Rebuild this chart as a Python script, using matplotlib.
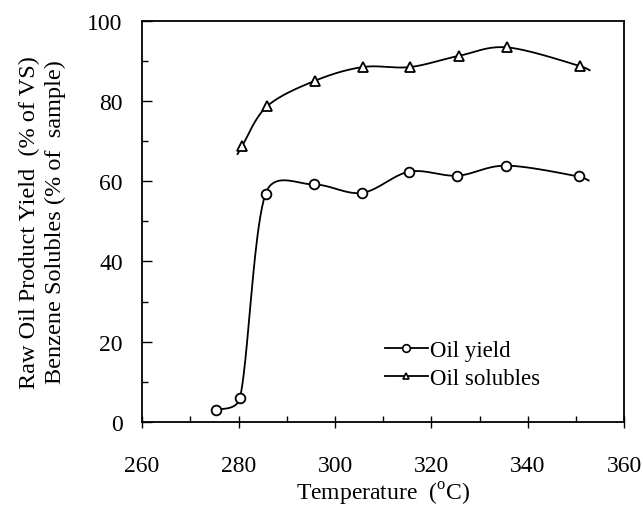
import numpy as np
import matplotlib
matplotlib.use("Agg")
import matplotlib.pyplot as plt
from matplotlib.ticker import MultipleLocator

plt.rcParams['font.family'] = ['Liberation Serif', 'DejaVu Serif']
plt.rcParams['mathtext.fontset'] = 'custom'
plt.rcParams['mathtext.rm'] = 'Liberation Serif'

# Data
yield_temp = [275.3, 280.3, 285.6, 295.6, 305.6, 315.4, 325.4, 335.5, 350.5]
yield_val = [2.9, 6.0, 56.9, 59.2, 57.1, 62.4, 61.4, 63.9, 61.2]
sol_temp = [280.8, 285.9, 295.9, 305.8, 315.6, 325.7, 335.7, 350.7]
sol_val = [68.9, 78.7, 85.1, 88.5, 88.5, 91.3, 93.4, 88.8]
# curve end points (line drawn slightly past the markers)
yield_end = (352.6, 60.2)
sol_start = (279.8, 66.8)
sol_end = (352.8, 87.7)

legend_labels = ['Oil yield', 'Oil solubles']
xlabel = r'Temperature  ($^{\mathrm{o}}$C)'
ylabel = 'Raw Oil Product Yield  (% of VS)\nBenzene Solubles (% of  sample)'

SX, SY = 4.86, 4.01  # approximate pixel scale used for smoothing shape


def smooth(xs, ys, n=40, t=1/6, lim=0.5):
    P = np.column_stack([np.asarray(xs, float) * SX, np.asarray(ys, float) * SY])
    out = []
    m = len(P)
    for i in range(m - 1):
        p0 = P[i - 1] if i > 0 else P[i]
        p1 = P[i]
        p2 = P[i + 1]
        p3 = P[i + 2] if i + 2 < m else P[i + 1]
        seg_len = np.linalg.norm(p2 - p1)
        v1 = (p2 - p0) * t
        v2 = (p3 - p1) * t
        for v in (v1, v2):
            L = np.linalg.norm(v)
            if L > lim * seg_len and L > 0:
                v *= lim * seg_len / L
        c1 = p1 + v1
        c2 = p2 - v2
        s = np.linspace(0, 1, n)[:, None]
        seg = ((1 - s) ** 3) * p1 + 3 * ((1 - s) ** 2) * s * c1 + 3 * (1 - s) * s ** 2 * c2 + s ** 3 * p2
        out.append(seg if i == 0 else seg[1:])
    c = np.vstack(out)
    return c[:, 0] / SX, c[:, 1] / SY


fig = plt.figure(figsize=(6.43, 5.10), dpi=100)
ax = fig.add_axes([0.221, 0.171, 0.750, 0.786])

lw = 1.3
yx, yy = smooth(yield_temp + [yield_end[0]], yield_val + [yield_end[1]])
ax.plot(yx, yy, color='black', lw=lw)
ax.plot(yield_temp, yield_val, 'o', ms=7, mfc='white', mec='black', mew=1.3)

sx, sy = smooth([sol_start[0]] + sol_temp + [sol_end[0]], [sol_start[1]] + sol_val + [sol_end[1]])
ax.plot(sx, sy, color='black', lw=lw)
ax.plot(sol_temp, sol_val, '^', ms=7, mfc='white', mec='black', mew=1.3)

h1, = ax.plot([], [], '-o', color='black', lw=lw, ms=5.5, mfc='white', mec='black', mew=1.2)
h2, = ax.plot([], [], '-^', color='black', lw=lw, ms=5, mfc='white', mec='black', mew=1.2)
ax.legend([h1, h2], legend_labels, loc='lower left', bbox_to_anchor=(0.485, 0.058),
          frameon=False, fontsize=16.5, handlelength=1.85, handletextpad=0.1,
          labelspacing=0.3, borderaxespad=0)

ax.set_xlim(260, 360)
ax.set_ylim(0, 100)
ax.xaxis.set_major_locator(MultipleLocator(20))
ax.xaxis.set_minor_locator(MultipleLocator(10))
ax.yaxis.set_major_locator(MultipleLocator(20))
ax.yaxis.set_minor_locator(MultipleLocator(10))
ax.tick_params(axis='x', which='major', direction='inout', length=8, width=1, labelsize=17, pad=20)
ax.tick_params(axis='x', which='minor', direction='in', length=4, width=1)
ax.tick_params(axis='y', which='major', direction='in', length=7, width=1, labelsize=17, pad=14)
ax.tick_params(axis='y', which='minor', direction='in', length=4, width=1)
for sp in ax.spines.values():
    sp.set_linewidth(1.3)

ax.set_xlabel(xlabel, fontsize=17, labelpad=3)
ax.set_ylabel(ylabel, fontsize=17.5, labelpad=15, linespacing=1.3)

fig.savefig('out.png', dpi=100)
